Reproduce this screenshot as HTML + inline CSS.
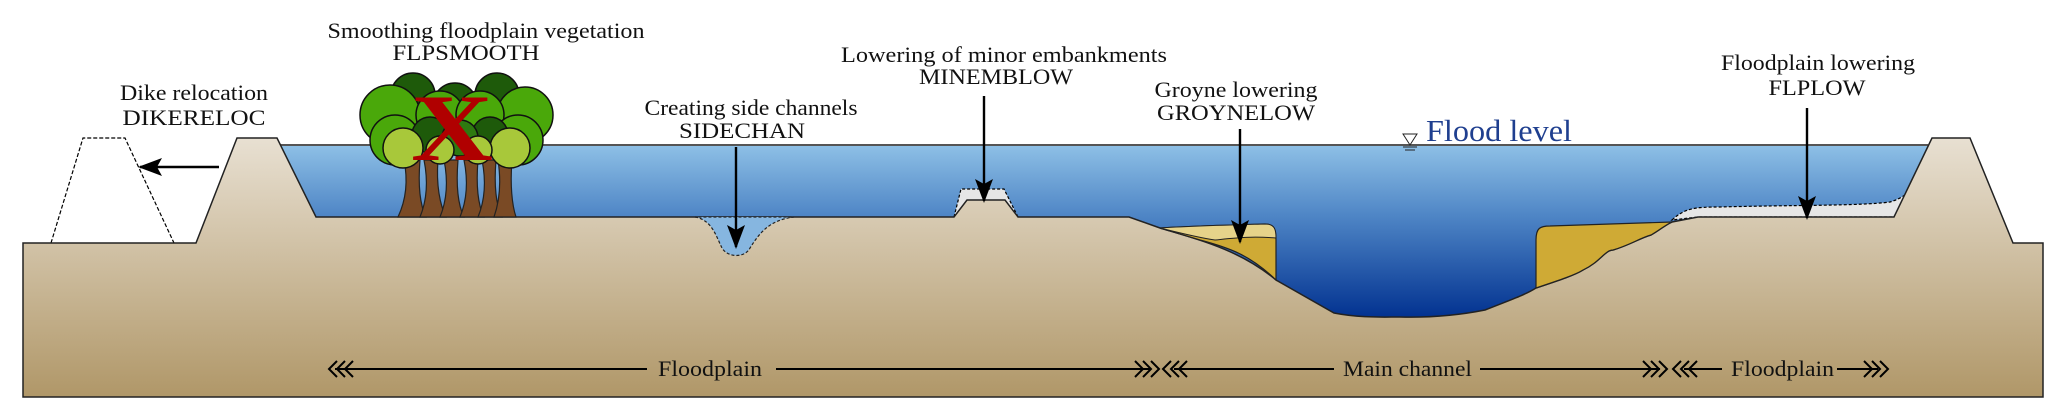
<!DOCTYPE html>
<html><head><meta charset="utf-8"><style>
html,body{margin:0;padding:0;background:#fff;}
svg{display:block;}
text{font-family:"Liberation Serif",serif;fill:#111;}
</style></head><body>
<svg width="2067" height="420" viewBox="0 0 2067 420" xmlns="http://www.w3.org/2000/svg">
<defs>
<linearGradient id="gw" x1="0" y1="145" x2="0" y2="320" gradientUnits="userSpaceOnUse">
<stop offset="0" stop-color="#8ec0e6"/><stop offset="0.4" stop-color="#4f86c6"/><stop offset="1" stop-color="#00308f"/></linearGradient>
<linearGradient id="gg" x1="0" y1="138" x2="0" y2="397" gradientUnits="userSpaceOnUse">
<stop offset="0" stop-color="#e8e0d2"/><stop offset="1" stop-color="#b09768"/></linearGradient>
<marker id="ah" markerWidth="24" markerHeight="18" refX="22" refY="9" orient="auto" markerUnits="userSpaceOnUse" viewBox="0 0 24 18"><path d="M0,0 L24,9 L0,18 L5,9 Z" fill="#000"/></marker>
</defs>
<rect x="270" y="145" width="1670" height="180" fill="url(#gw)"/>
<line x1="280" y1="145" x2="1928" y2="145" stroke="#555" stroke-width="2"/>
<path d="M51,243 L83,138 L125,138 L174,243" fill="#fff" stroke="#000" stroke-width="1.2" stroke-dasharray="4,2"/>
<path d="M1672,220 C1685,208 1695,207 1720,207 C1790,205 1860,206 1890,202 C1900,199 1905,195 1907,193 L1894,217 L1698,217 Z" fill="#e6e6e6" stroke="#000" stroke-width="1.2" stroke-dasharray="3,2"/>
<path d="M954,217 L961,189 L1004,189 L1018,217 Z" fill="#e6e6e6" stroke="#000" stroke-width="1.2" stroke-dasharray="3,2"/>
<path d="M23,243 L196,243 L237,138 L277,138 L316,217 L954,217 L967,200 L1005,200 L1018,217 L1129,217 L1160,228 C1200,240 1240,250 1276,280 L1334,313 C1360,318 1380,317 1400,317 C1440,318 1470,313 1485,310 C1510,300 1525,295 1536,288 C1560,280 1575,275 1583,270 C1600,262 1605,250 1613,250 C1630,245 1640,238 1651,235 C1660,230 1665,225 1672,222 L1698,217 L1894,217 L1932,138 L1970,138 L2013,243 L2043,243 L2043,397 L23,397 Z" fill="url(#gg)" stroke="#222" stroke-width="1.5"/>
<path d="M695,217 C712,220 716,236 722,248 C728,258 745,258 750,248 C760,232 770,220 794,217 Z" fill="#86b6e0" stroke="#222" stroke-width="1.2" stroke-dasharray="3,2"/>
<path d="M1160,228 C1190,226 1230,225 1265,224 C1275,224 1276,230 1276,240 L1276,280 C1250,255 1230,248 1200,240 Z" fill="#cfaa35" stroke="#222" stroke-width="1.2"/>
<path d="M1160,228 C1190,226 1230,225 1265,224 C1275,224 1276,230 1276,238 C1250,236 1235,238 1215,240 C1200,238 1180,233 1160,228 Z" fill="#e6d38a" stroke="#222" stroke-width="1"/>
<path d="M1536,288 L1536,240 C1536,228 1540,226 1550,226 L1672,222 C1665,225 1660,230 1651,235 C1640,238 1630,245 1613,250 C1605,250 1600,262 1583,270 C1575,275 1560,280 1536,288 Z" fill="#cfaa35" stroke="#222" stroke-width="1.2"/>
<g fill="#7a4a25" stroke="#222" stroke-width="1.2">
<path d="M398,217 C406,200 408,180 404,160 L420,160 C418,185 420,205 426,217 Z"/>
<path d="M420,217 C427,200 428,180 424,160 L438,160 C436,185 440,205 446,217 Z"/>
<path d="M440,217 C447,200 448,180 444,160 L458,160 C456,185 458,205 464,217 Z"/>
<path d="M460,217 C467,200 468,180 464,160 L478,160 C476,185 478,205 484,217 Z"/>
<path d="M478,217 C485,200 486,180 482,160 L496,160 C494,185 496,205 502,217 Z"/>
<path d="M494,217 C500,200 501,180 498,160 L512,160 C510,185 512,205 516,217 Z"/>
</g>
<g stroke="#111" stroke-width="1.5">
<circle cx="413" cy="95" r="22" fill="#1e5a0a"/>
<circle cx="497" cy="95" r="22" fill="#1e5a0a"/>
<circle cx="455" cy="105" r="22" fill="#1e5a0a"/>
<circle cx="390" cy="115" r="30" fill="#4aa80a"/>
<circle cx="525" cy="115" r="28" fill="#4aa80a"/>
<circle cx="440" cy="115" r="24" fill="#4aa80a"/>
<circle cx="480" cy="115" r="24" fill="#4aa80a"/>
<circle cx="395" cy="140" r="25" fill="#4aa80a"/>
<circle cx="518" cy="140" r="25" fill="#4aa80a"/>
<circle cx="430" cy="135" r="18" fill="#1e5a0a"/>
<circle cx="490" cy="135" r="18" fill="#1e5a0a"/>
<circle cx="460" cy="138" r="18" fill="#2e7a10"/>
<circle cx="403" cy="148" r="20" fill="#a8c83a"/>
<circle cx="510" cy="148" r="20" fill="#a8c83a"/>
<circle cx="440" cy="150" r="14" fill="#a8c83a"/>
<circle cx="478" cy="150" r="14" fill="#a8c83a"/>
</g>
<text x="452" y="160" font-size="95" font-weight="bold" text-anchor="middle" style="fill:#b00000" textLength="82" lengthAdjust="spacingAndGlyphs">X</text>
<g font-size="22" text-anchor="middle">
<text x="486" y="38" textLength="317" lengthAdjust="spacingAndGlyphs">Smoothing floodplain vegetation</text>
<text x="466" y="60" textLength="147" lengthAdjust="spacingAndGlyphs">FLPSMOOTH</text>
<text x="194" y="100" textLength="148" lengthAdjust="spacingAndGlyphs">Dike relocation</text>
<text x="194" y="125" textLength="143" lengthAdjust="spacingAndGlyphs">DIKERELOC</text>
<text x="751" y="115" textLength="213" lengthAdjust="spacingAndGlyphs">Creating side channels</text>
<text x="742" y="138" textLength="126" lengthAdjust="spacingAndGlyphs">SIDECHAN</text>
<text x="1004" y="62" textLength="326" lengthAdjust="spacingAndGlyphs">Lowering of minor embankments</text>
<text x="996" y="84" textLength="154" lengthAdjust="spacingAndGlyphs">MINEMBLOW</text>
<text x="1236" y="97" textLength="163" lengthAdjust="spacingAndGlyphs">Groyne lowering</text>
<text x="1236" y="120" textLength="158" lengthAdjust="spacingAndGlyphs">GROYNELOW</text>
<text x="1818" y="70" textLength="194" lengthAdjust="spacingAndGlyphs">Floodplain lowering</text>
<text x="1817" y="95" textLength="97" lengthAdjust="spacingAndGlyphs">FLPLOW</text>
</g>
<text x="1426" y="141" font-size="31" style="fill:#1f3f8f" textLength="146" lengthAdjust="spacingAndGlyphs">Flood level</text>
<path d="M1403,134 L1417,134 L1410,145 Z" fill="none" stroke="#222" stroke-width="1"/>
<line x1="1403" y1="147" x2="1417" y2="147" stroke="#222"/><line x1="1405" y1="150" x2="1415" y2="150" stroke="#222"/>
<g stroke="#000" stroke-width="2.4">
<line x1="219" y1="167" x2="140" y2="167" marker-end="url(#ah)"/>
<line x1="736" y1="147" x2="736" y2="247" marker-end="url(#ah)"/>
<line x1="984" y1="96" x2="984" y2="201" marker-end="url(#ah)"/>
<line x1="1240" y1="129" x2="1240" y2="242" marker-end="url(#ah)"/>
<line x1="1807" y1="108" x2="1807" y2="218" marker-end="url(#ah)"/>
</g>
<g stroke="#000" stroke-width="2" fill="none">
<line x1="335" y1="369" x2="647" y2="369"/>
<line x1="776" y1="369" x2="1150" y2="369"/>
<line x1="1174" y1="369" x2="1334" y2="369"/>
<line x1="1480" y1="369" x2="1660" y2="369"/>
<line x1="1684" y1="369" x2="1722" y2="369"/>
<line x1="1837" y1="369" x2="1878" y2="369"/>
<path d="M337,361 L329,369 L337,377 M345,361 L337,369 L345,377 M353,361 L345,369 L353,377"/>
<path d="M1135,361 L1143,369 L1135,377 M1143,361 L1151,369 L1143,377 M1151,361 L1159,369 L1151,377"/>
<path d="M1171,361 L1163,369 L1171,377 M1179,361 L1171,369 L1179,377 M1187,361 L1179,369 L1187,377"/>
<path d="M1643,361 L1651,369 L1643,377 M1651,361 L1659,369 L1651,377 M1659,361 L1667,369 L1659,377"/>
<path d="M1681,361 L1673,369 L1681,377 M1689,361 L1681,369 L1689,377 M1697,361 L1689,369 L1697,377"/>
<path d="M1864,361 L1872,369 L1864,377 M1872,361 L1880,369 L1872,377 M1880,361 L1888,369 L1880,377"/>
</g>
<g font-size="22">
<text x="658" y="376" textLength="104" lengthAdjust="spacingAndGlyphs">Floodplain</text>
<text x="1343" y="376" textLength="129" lengthAdjust="spacingAndGlyphs">Main channel</text>
<text x="1731" y="376" textLength="103" lengthAdjust="spacingAndGlyphs">Floodplain</text>
</g>
</svg>
</body></html>
